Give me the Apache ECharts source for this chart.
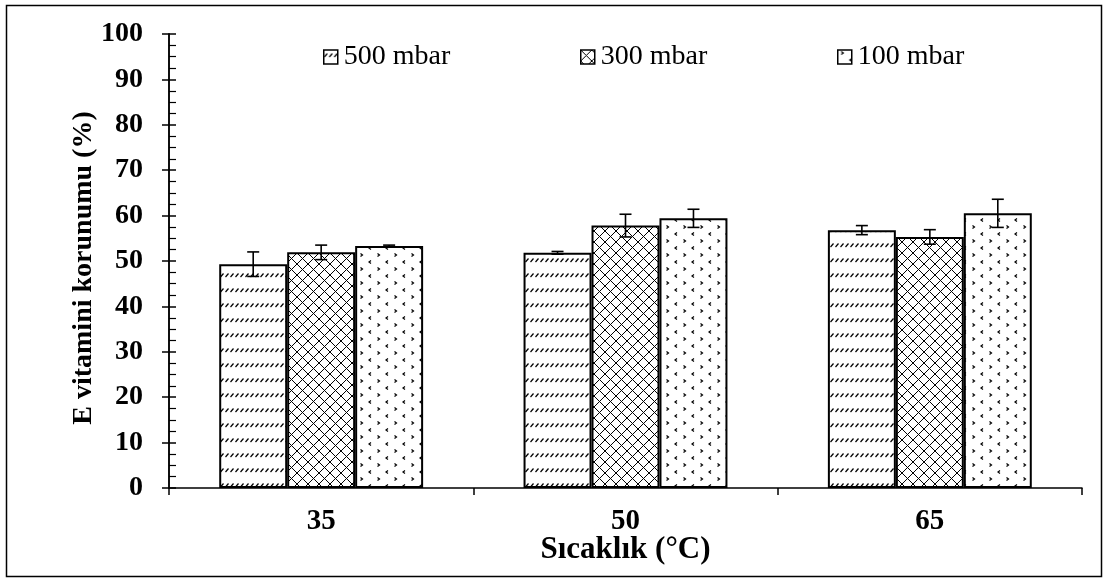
<!DOCTYPE html>
<html><head><meta charset="utf-8">
<script src="https://cdn.jsdelivr.net/npm/echarts@6/dist/echarts.min.js"></script>
<style>html,body{margin:0;padding:0;background:#fff}#chart{width:1103px;height:579px}</style>
</head><body><div id="chart"></div>
<script>
// Temperature groups and pressure series
const categories = ['35', '50', '65'];
const seriesNames = ['500 mbar', '300 mbar', '100 mbar'];
// Vitamin E retention (%) per temperature
const v500 = [49.3, 51.8, 56.8];
const v300 = [51.9, 57.8, 55.3];
const v100 = [53.3, 59.4, 60.5];
// Standard deviations
const e500 = [2.7, 0.3, 1.0];
const e300 = [1.6, 2.5, 1.6];
const e100 = [0.2, 2.0, 3.1];
const yTicks = [0, 10, 20, 30, 40, 50, 60, 70, 80, 90, 100];

const FONT = '"Liberation Serif", "Times New Roman", serif';
const GAP = 0.33;

function makeTile(w, h, draw) {
  const c = document.createElement('canvas');
  c.width = w; c.height = h;
  const g = c.getContext('2d');
  g.fillStyle = '#fff'; g.fillRect(0, 0, w, h);
  g.strokeStyle = '#000'; g.lineWidth = 1.2;
  draw(g);
  return c;
}
// rows of short slashes
const tileSlash = makeTile(5, 15, g => {
  g.beginPath(); g.moveTo(0.5, 7); g.lineTo(3.5, 3.5); g.stroke();
});
// diagonal cross-hatch
const tileCross = makeTile(11, 11, g => {
  g.lineWidth = 1;
  g.beginPath();
  g.moveTo(0, 0); g.lineTo(11, 11);
  g.moveTo(11, 0); g.lineTo(0, 11);
  g.stroke();
});
// staggered small chevrons
const tileDots = makeTile(17, 14, g => {
  g.beginPath();
  g.moveTo(3.5, 1.5); g.lineTo(5.5, 3); g.lineTo(3.5, 4.5);
  g.moveTo(14, 8.5); g.lineTo(12, 10); g.lineTo(14, 11.5);
  g.stroke();
});
const tiles = [tileSlash, tileCross, tileDots];
const values = [v500, v300, v100];
const errors = [e500, e300, e100];

const barSeries = seriesNames.map((name, i) => ({
  type: 'bar',
  name,
  data: values[i],
  barGap: '0%',
  barCategoryGap: (GAP * 100) + '%',
  itemStyle: { color: { image: tiles[i], repeat: 'repeat' }, borderColor: '#000', borderWidth: 2 },
  emphasis: { disabled: true },
  silent: true
}));

const errSeries = values.map((vals, idx) => ({
  type: 'custom',
  z: 10,
  silent: true,
  data: vals.map((v, i) => [i, v, errors[idx][i]]),
  encode: { x: 0, y: 1 },
  renderItem: (params, api) => {
    const ci = api.value(0), v = api.value(1), e = api.value(2);
    const band = api.size([1, 0])[0];
    const barW = band * (1 - GAP) / 3;
    const x = api.coord([ci, v])[0] + (idx - 1) * barW;
    const yt = api.coord([ci, v + e])[1];
    const yb = api.coord([ci, v - e])[1];
    const cap = 6;
    const st = { stroke: '#000', lineWidth: 1.6 };
    return {
      type: 'group',
      children: [
        { type: 'line', shape: { x1: x, y1: yt, x2: x, y2: yb }, style: st },
        { type: 'line', shape: { x1: x - cap, y1: yt, x2: x + cap, y2: yt }, style: st },
        { type: 'line', shape: { x1: x - cap, y1: yb, x2: x + cap, y2: yb }, style: st }
      ]
    };
  }
}));

const legendLeft = [323, 580, 837];
const legends = seriesNames.map((n, i) => ({
  data: [n],
  left: legendLeft[i],
  top: 43,
  padding: 0,
  itemWidth: 14,
  itemHeight: 14,
  itemGap: 0,
  icon: 'rect',
  selectedMode: false,
  itemStyle: { borderColor: '#000', borderWidth: 1.5 },
  textStyle: { fontFamily: FONT, fontSize: 28, color: '#000', padding: [0, 0, 0, 1] }
}));

const axisLabelStyle = { fontFamily: FONT, fontSize: 28, fontWeight: 'bold', color: '#000' };

const option = {
  animation: false,
  backgroundColor: '#fff',
  legend: legends,
  grid: { left: 169, right: 21, top: 34, bottom: 91, outerBoundsMode: 'none' },
  xAxis: {
    type: 'category',
    data: categories,
    axisLine: { lineStyle: { color: '#000', width: 1.5 } },
    axisTick: { show: true, length: 7, lineStyle: { color: '#000', width: 1.5 } },
    axisLabel: Object.assign({ margin: 19 }, axisLabelStyle, { fontSize: 29 }),
    name: 'Sıcaklık (°C)',
    nameLocation: 'middle',
    nameGap: 46,
    nameMoveOverlap: false,
    nameTextStyle: Object.assign({}, axisLabelStyle, { fontSize: 31 })
  },
  yAxis: [
    {
      type: 'value', min: yTicks[0], max: yTicks[yTicks.length - 1], interval: 10,
      axisLine: { show: true, lineStyle: { color: '#000', width: 1.5 } },
      axisTick: { show: true, length: 7, lineStyle: { color: '#000', width: 1.5 } },
      axisLabel: Object.assign({ margin: 26 }, axisLabelStyle),
      splitLine: { show: false },
      name: 'E vitamini korunumu (%)',
      nameLocation: 'middle',
      nameGap: 71,
      nameMoveOverlap: false,
      nameTextStyle: Object.assign({ padding: [0, 14, 0, 0] }, axisLabelStyle)
    },
    {
      type: 'value', min: yTicks[0], max: yTicks[yTicks.length - 1], interval: 10,
      position: 'left',
      axisLine: { show: true, lineStyle: { color: '#000', width: 1.5 } },
      axisTick: { show: true, inside: true, length: 7, lineStyle: { color: '#000', width: 1.5 } },
      minorTick: { show: true, splitNumber: 4, length: 7, lineStyle: { color: '#000', width: 1.2 } },
      axisLabel: { show: false },
      splitLine: { show: false }
    }
  ],
  graphic: [{
    type: 'rect',
    shape: { x: 6.5, y: 5.5, width: 1095, height: 571 },
    style: { fill: 'none', stroke: '#000', lineWidth: 1.5 },
    silent: true
  }],
  series: barSeries.concat(errSeries)
};

echarts.init(document.getElementById('chart'), null, { renderer: 'canvas' }).setOption(option);
</script>
</body></html>
